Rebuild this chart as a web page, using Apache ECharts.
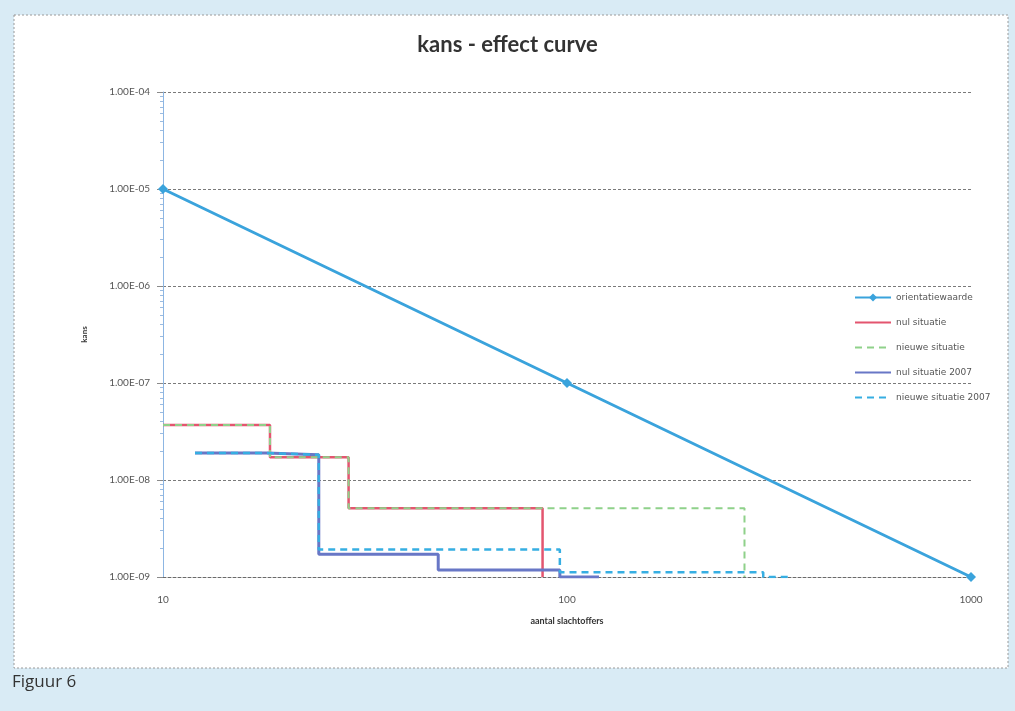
<!DOCTYPE html>
<html>
<head>
<meta charset="utf-8">
<script src="https://cdn.jsdelivr.net/npm/echarts@6/dist/echarts.min.js"></script>
<style>
  html, body { margin: 0; padding: 0; background: #d9ebf5; }
  #chart { width: 1015px; height: 711px; }
</style>
</head>
<body>
<div id="chart"></div>
<script>
// Tick labels
const xTickLabels = { 10: '10', 100: '100', 1000: '1000' };
const yTickLabels = {
  '-4': '1.00E-04', '-5': '1.00E-05', '-6': '1.00E-06',
  '-7': '1.00E-07', '-8': '1.00E-08', '-9': '1.00E-09'
};

// Series data: [aantal slachtoffers, kans]
const orientatiewaarde = [[10, 1e-5], [100, 1e-7], [1000, 1e-9]];
const nulSituatie = [[10, 3.7e-8], [18.4, 1.72e-8], [28.8, 5.1e-9], [87, 1e-9]];
const nieuweSituatie = [[10, 3.7e-8], [18.4, 1.72e-8], [28.8, 5.1e-9], [275, 1e-9]];
const nulSituatie2007 = [[12, 1.9e-8], [18, 1.82e-8], [24.3, 1.72e-9], [48, 1.18e-9], [96, 1e-9], [120, 1e-9]];
const nieuweSituatie2007 = [[12, 1.9e-8], [18, 1.82e-8], [24.3, 1.92e-9], [96, 1.12e-9], [306, 1e-9], [360, 1e-9]];

const FONT = 'Lato, "Open Sans", sans-serif';

const chart = echarts.init(document.getElementById('chart'), null, { renderer: 'canvas' });

function stepSeries(name, data, color, width, dashed, z) {
  return {
    name: name,
    type: 'line',
    data: data,
    step: 'end',
    symbol: 'none',
    z: z,
    lineStyle: { color: color, width: width, type: dashed ? [7, 5] : 'solid' },
    itemStyle: { color: color }
  };
}

// step lines appear in the legend as a plain line, without a marker
const lineOnly = { opacity: 0 };

chart.setOption({
  backgroundColor: '#d9ebf5',
  animation: false,
  graphic: [
    {
      type: 'rect',
      shape: { x: 14, y: 15, width: 994, height: 653 },
      style: { fill: '#ffffff', stroke: '#9a9a9a', lineWidth: 1, lineDash: [2, 2] },
      z: -10
    },
    {
      type: 'text',
      left: 12, top: 674,
      style: { text: 'Figuur 6', font: '17px "Open Sans", Lato, sans-serif', fill: '#333333' }
    }
  ],
  title: {
    text: 'kans - effect curve',
    left: 'center',
    top: 29,
    textStyle: { fontFamily: FONT, fontSize: 22, fontWeight: 'bold', color: '#333333' }
  },
  legend: {
    orient: 'vertical',
    left: 849,
    top: 288,
    itemGap: 16,
    itemWidth: 36,
    itemHeight: 10,
    textStyle: { fontFamily: '"DejaVu Sans", sans-serif', fontSize: 9, color: '#555555' },
    data: [
      { name: 'orientatiewaarde' },
      { name: 'nul situatie', itemStyle: lineOnly },
      { name: 'nieuwe situatie', itemStyle: lineOnly },
      { name: 'nul situatie 2007', itemStyle: lineOnly },
      { name: 'nieuwe situatie 2007', itemStyle: lineOnly }
    ]
  },
  grid: { left: 163, right: 44, top: 92, bottom: 134 },
  xAxis: {
    type: 'log',
    logBase: 10,
    min: 10,
    max: 1000,
    name: 'aantal slachtoffers',
    nameLocation: 'middle',
    nameGap: 40,
    nameTextStyle: { fontFamily: FONT, fontSize: 9, fontWeight: 'bold', color: '#333333' },
    axisLine: { lineStyle: { color: '#6a6a6a', width: 1, type: [3, 2] } },
    axisTick: { show: false },
    splitLine: { show: false },
    axisLabel: {
      fontFamily: FONT, fontSize: 10, color: '#555555', margin: 18,
      formatter: v => xTickLabels[Math.round(v)] || ''
    }
  },
  yAxis: {
    type: 'log',
    logBase: 10,
    min: 1e-9,
    max: 1e-4,
    name: 'kans',
    nameLocation: 'middle',
    nameGap: 75,
    nameRotate: 90,
    nameTextStyle: { fontFamily: FONT, fontSize: 8, fontWeight: 'bold', color: '#333333' },
    axisLine: { show: true, lineStyle: { color: '#8db6e3', width: 1 } },
    axisTick: { show: true, length: 6, lineStyle: { color: '#8a8a8a' } },
    minorTick: { show: true, splitNumber: 9, length: 3, lineStyle: { color: '#9bbbe0' } },
    splitLine: { show: true, lineStyle: { color: '#7a7a7a', width: 1, type: [3, 2] } },
    axisLabel: {
      fontFamily: FONT, fontSize: 10, color: '#555555', margin: 13,
      formatter: v => yTickLabels[String(Math.round(Math.log10(v)))] || ''
    }
  },
  series: [
    {
      name: 'orientatiewaarde',
      type: 'line',
      data: orientatiewaarde,
      symbol: 'diamond',
      symbolSize: 10,
      z: 5,
      lineStyle: { color: '#3aa3dc', width: 3 },
      itemStyle: { color: '#3aa3dc' }
    },
    stepSeries('nul situatie', nulSituatie, '#e3556f', 2.5, false, 3),
    stepSeries('nieuwe situatie', nieuweSituatie, '#8fd18a', 2, true, 4),
    stepSeries('nul situatie 2007', nulSituatie2007, '#6877c6', 3, false, 3),
    stepSeries('nieuwe situatie 2007', nieuweSituatie2007, '#36aee2', 2.5, true, 4)
  ]
});
</script>
</body>
</html>
